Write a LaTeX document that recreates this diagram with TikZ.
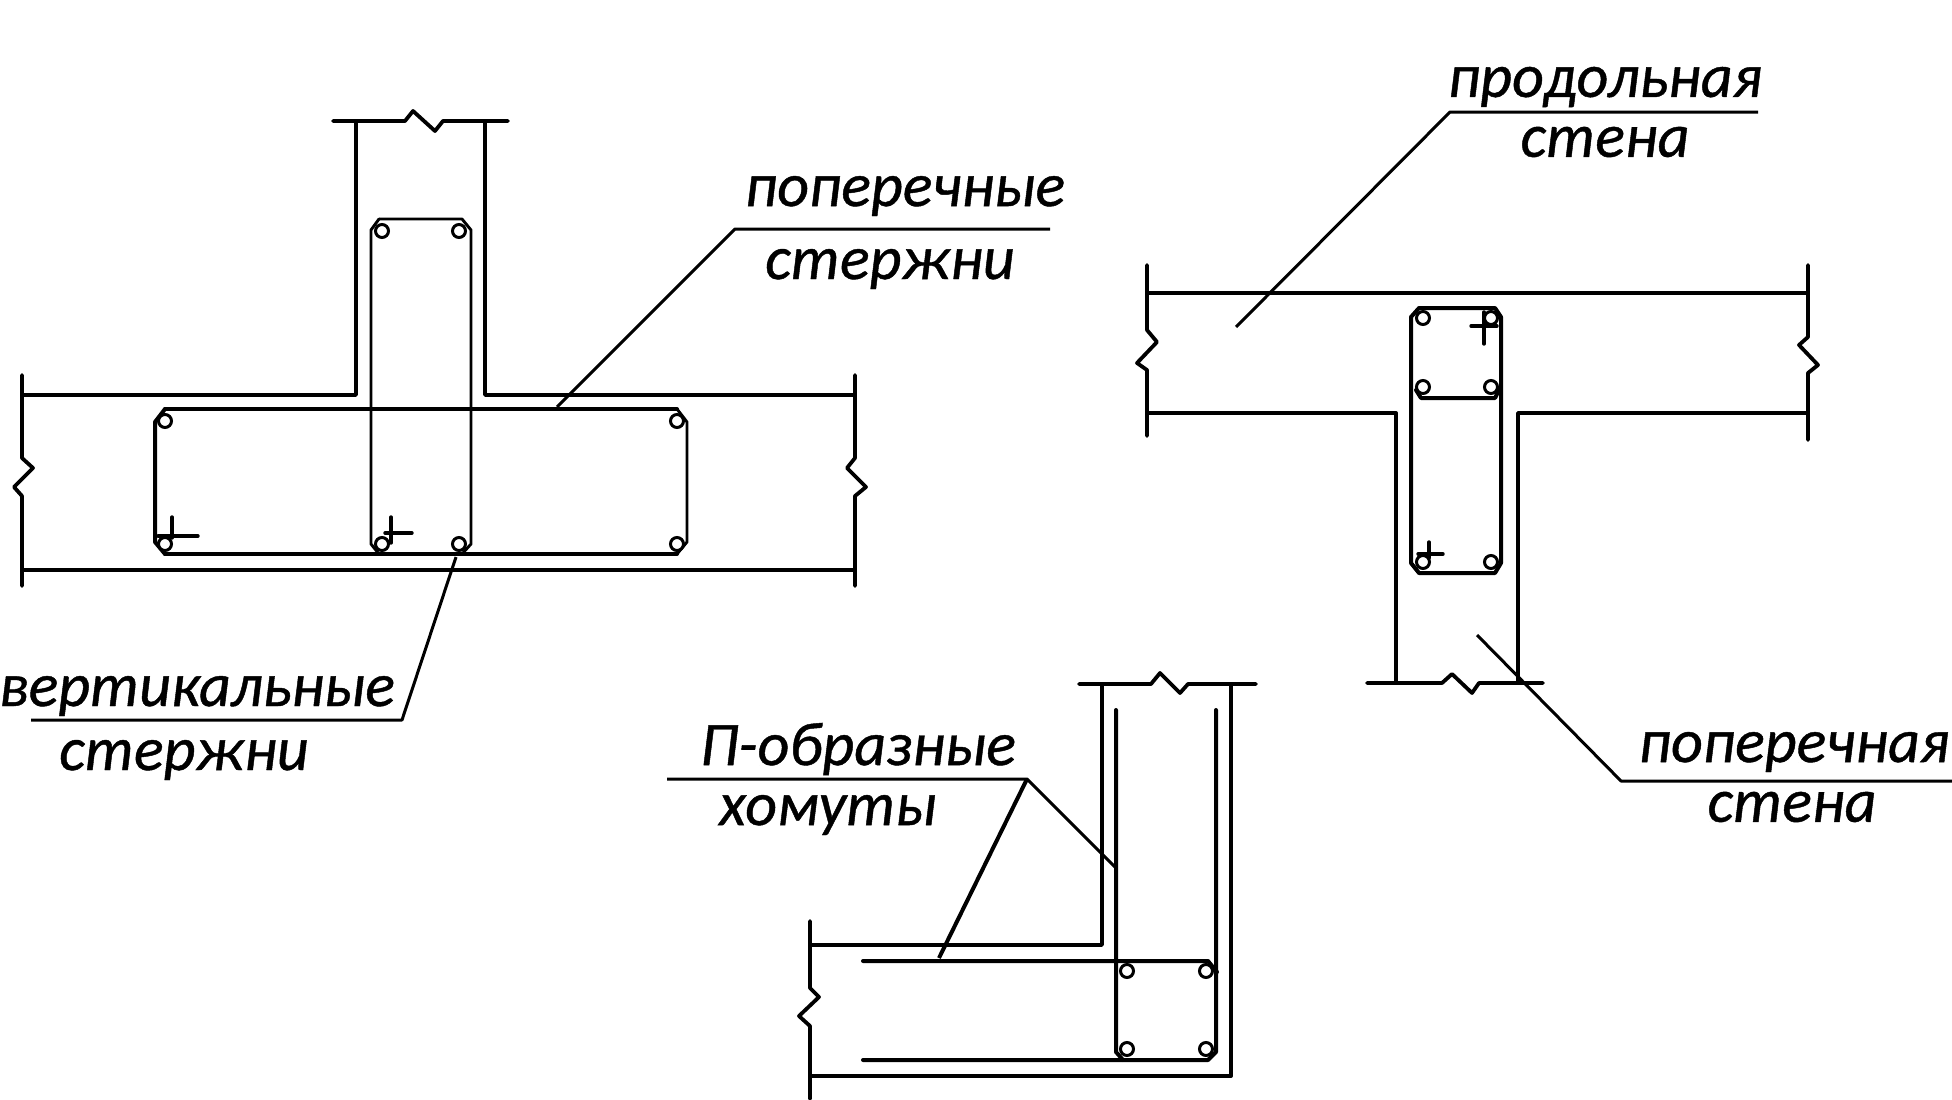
\documentclass[tikz,border=0pt]{standalone}
\usepackage{fontspec}
\setmainfont{Carlito}[ItalicFeatures={FakeBold=0.7}]
\tikzset{
  wall/.style={line width=3.8pt,line join=round,line cap=round},
  rebar/.style={line width=4pt,line join=round,line cap=round},
  thinbar/.style={line width=2.9pt,line join=round,line cap=round},
  tick/.style={line width=3.4pt,line cap=round},
  leader/.style={line width=3pt,line join=round},
  heavyleader/.style={line width=4pt,line join=round},
  barnode/.style={circle,draw,fill=white,line width=3pt,minimum size=13pt,inner sep=0pt},
  lab/.style={font=\fontsize{62}{62}\selectfont\itshape,inner sep=0pt,anchor=center},
}
\begin{document}
\begin{tikzpicture}[x=1pt,y=-1pt]
\useasboundingbox (0,0) rectangle (1952,1100);
% === panel 1 ===
\draw[wall] (333,121) -- (405,121) -- (413,111) -- (435,131) -- (443,121) -- (508,121);
\draw[wall] (356,121) -- (356,395) -- (22,395);
\draw[wall] (485,121) -- (485,395) -- (855,395);
\draw[wall] (22,375) -- (22,458) -- (33,468) -- (14,487) -- (22,496) -- (22,586);
\draw[wall] (855,375) -- (855,458) -- (847,468) -- (866,487) -- (855,496) -- (855,586);
\draw[wall] (22,570) -- (855,570);
\draw[rebar] (165,409) -- (677,409);
\draw[rebar] (165,554) -- (677,554);
\draw[rebar] (165,409) -- (155,422) -- (155,542) -- (165,554);
\draw[thinbar] (677,409) -- (687,422) -- (687,542) -- (677,554);
\draw[thinbar] (379,219) -- (462,219) -- (471,230) -- (471,544) -- (462,554);
\draw[thinbar] (379,219) -- (371,230) -- (371,544) -- (379,554);
\node[barnode] (b1) at (165,421) {};
\node[barnode] (b2) at (677,421) {};
\node[barnode] (b3) at (165,544) {};
\node[barnode] (b4) at (677,544) {};
\node[barnode] (b5) at (382,231) {};
\node[barnode] (b6) at (459,231) {};
\node[barnode] (b7) at (382,544) {};
\node[barnode] (b8) at (459,544) {};
\draw[tick] (172,517) -- (172,538) (158,536) -- (198,536);
\draw[tick] (391,517) -- (391,543) (385,533) -- (412,533);
% === panel 2 ===
\draw[wall] (1147,293) -- (1808,293);
\draw[wall] (1147,413) -- (1396,413) -- (1396,683);
\draw[wall] (1808,413) -- (1518,413) -- (1518,683);
\draw[wall] (1147,265) -- (1147,330) -- (1157,342) -- (1137,363) -- (1147,370) -- (1147,436);
\draw[wall] (1808,265) -- (1808,337) -- (1799,345) -- (1818,365) -- (1808,373) -- (1808,440);
\draw[wall] (1367,683) -- (1442,683) -- (1452,674) -- (1472,693) -- (1479,683) -- (1543,683);
\draw[rebar] (1419,308) -- (1495,308) -- (1501,317) -- (1501,563) -- (1495,573) -- (1419,573) -- (1411,563) -- (1411,317) -- cycle;
\draw[rebar] (1416,390) -- (1421,398) -- (1495,398) -- (1499,390);
\node[barnode] (c1) at (1423,318) {};
\node[barnode] (c2) at (1491,318) {};
\node[barnode] (c3) at (1423,387) {};
\node[barnode] (c4) at (1491,387) {};
\node[barnode] (c5) at (1423,562) {};
\node[barnode] (c6) at (1491,562) {};
\draw[tick] (1484,312) -- (1484,344) (1471,326) -- (1497,326);
\draw[tick] (1429,542) -- (1429,558) (1418,554) -- (1443,554);
% === panel 3 ===
\draw[wall] (1079,684) -- (1151,684) -- (1160,673) -- (1180,693) -- (1188,684) -- (1256,684);
\draw[wall] (1102,684) -- (1102,945) -- (810,945);
\draw[wall] (1231,684) -- (1231,1076) -- (810,1076);
\draw[wall] (810,921) -- (810,988) -- (819,997) -- (799,1016) -- (810,1026) -- (810,1099);
\draw[rebar] (1116,710) -- (1116,1052) -- (1123,1060);
\draw[rebar] (1216,710) -- (1216,1052) -- (1208,1060) -- (863,1060);
\draw[rebar] (863,961) -- (1208,961) -- (1217,972);
\node[barnode] (d1) at (1127,971) {};
\node[barnode] (d2) at (1206,971) {};
\node[barnode] (d3) at (1127,1049) {};
\node[barnode] (d4) at (1206,1049) {};
% === labels ===
\node[lab] (t1a) at (905,196) {поперечные};
\node[lab] (t1b) at (890,269) {стержни};
\node[lab] (t2a) at (197,696) {вертикальные};
\node[lab] (t2b) at (184,760) {стержни};
\node[lab] (t3a) at (1605,87) {продольная};
\node[lab] (t3b) at (1605,142) {стена};
\node[lab] (t4a) at (1794,752) {поперечная};
\node[lab] (t4b) at (1792,807) {стена};
\node[lab] (t5a) at (858,749) {П-образные};
\node[lab] (t5b) at (828,815) {хомуты};
% === leaders ===
\coordinate (l1a) at (557,407); \coordinate (l1b) at (735,229); \coordinate (l1c) at (1050,229);
\draw[leader] (l1a) -- (l1b) -- (l1c);
\coordinate (l2a) at (456,557); \coordinate (l2b) at (402,720); \coordinate (l2c) at (31,720);
\draw[leader] (l2a) -- (l2b) -- (l2c);
\coordinate (l3a) at (1236,327); \coordinate (l3b) at (1450,112); \coordinate (l3c) at (1758,112);
\draw[leader] (l3a) -- (l3b) -- (l3c);
\coordinate (l4a) at (1477,635); \coordinate (l4b) at (1621,781); \coordinate (l4c) at (1952,781);
\draw[leader] (l4a) -- (l4b) -- (l4c);
\coordinate (l5a) at (1116,868); \coordinate (l5b) at (1027,779); \coordinate (l5c) at (667,779); \coordinate (l5d) at (939,958);
\draw[leader] (l5a) -- (l5b) -- (l5c);
\draw[heavyleader] (l5d) -- (l5b);
\end{tikzpicture}
\end{document}
